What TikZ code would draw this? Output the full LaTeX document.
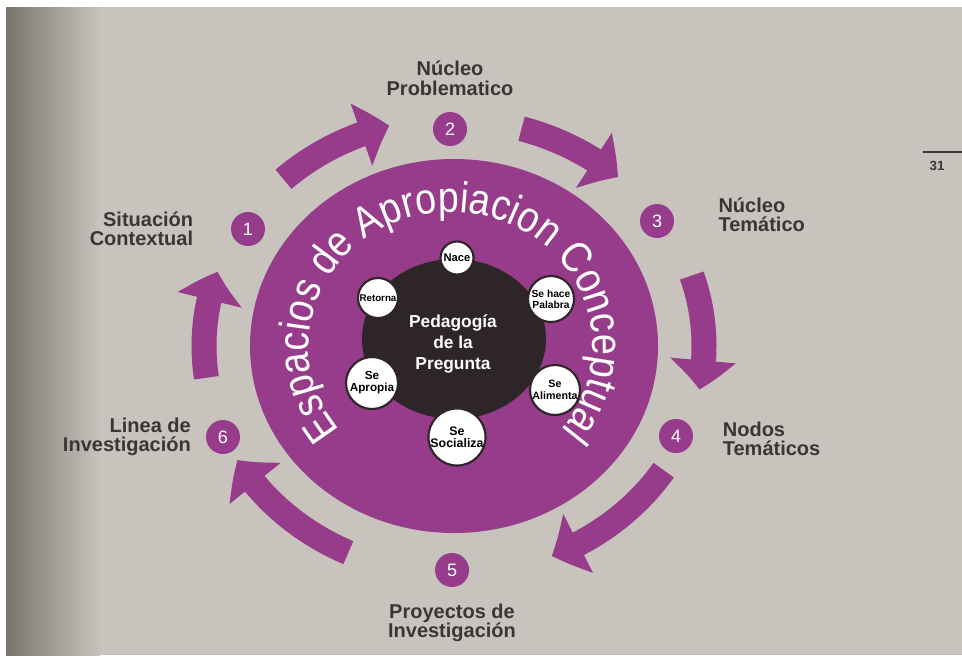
\documentclass[tikz,border=0pt]{standalone}
\usepackage{fontspec}
\setmainfont{Liberation Sans}
\newfontfamily\ringfont[FakeStretch=0.87]{Liberation Sans}
\usepackage{tikz}
\usetikzlibrary{arrows.meta,bending,positioning,decorations.text}
\definecolor{pagegray}{HTML}{C9C3BD}
\definecolor{gutter}{HTML}{7A746E}
\definecolor{espurple}{HTML}{973B8B}
\definecolor{corenavy}{HTML}{2E2529}
\definecolor{labelgray}{HTML}{3C3536}

\begin{document}
\begin{tikzpicture}[
  x=0.75pt, y=0.75pt,
  every node/.style={align=center, inner sep=0pt},
  num/.style={circle, fill=espurple, text=white, minimum size=25.5pt, font=\fontsize{13.5}{13.5}\selectfont},
  stage/.style={text=labelgray, font=\fontsize{15}{14.6}\selectfont\bfseries},
  verb/.style={circle, fill=white, draw=corenavy, line width=1.6pt},
  cycle/.style={espurple, line width=18.75pt, -{Triangle[length=22pt, width=48pt, bend]}}
]
% page
\useasboundingbox (0,0) rectangle (962,-658);
\fill[white] (0,0) rectangle (962,-658);
\fill[pagegray] (6,-7) rectangle (962,-655);
\shade[left color=gutter, right color=pagegray] (6,-7) rectangle (100,-655);
\node[font=\fontsize{10}{10}\selectfont\bfseries, text=labelgray] (pg) at (937,-166) {31};
\draw[labelgray, line width=0.9pt] (923,-152) -- (962,-152);

% big ring
\coordinate (c) at (454,-346);
\fill[espurple] (c) ellipse[x radius=204, y radius=187];
\path[decorate, decoration={text along path, text align=center, text color=white,
  text={|\ringfont\fontsize{32.5}{32.5}\selectfont|Espacios de Apropiacion Conceptual}}]
  ([xshift=-2.5pt]c) ++(240:142 and 134) arc[start angle=240, end angle=-60, x radius=142, y radius=134];

% core
\fill[corenavy] (454,-339) ellipse[x radius=92, y radius=80];
\node[text=white, font=\fontsize{13}{15.75}\selectfont\bfseries] (pq) at (453,-344) {Pedagogía\\de la\\Pregunta};

\node[verb, minimum size=24.75pt, font=\fontsize{8.4}{8.4}\selectfont\bfseries] (nace) at (457,-258) {Nace};
\node[verb, minimum size=34.5pt, font=\fontsize{7.7}{8}\selectfont\bfseries] (palabra) at (551,-299) {Se hace\\Palabra};
\node[verb, minimum size=37.5pt, font=\fontsize{8}{8.6}\selectfont\bfseries] (alimenta) at (555,-390) {Se\\Alimenta};
\node[verb, minimum size=42pt, font=\fontsize{9.3}{9.3}\selectfont\bfseries] (socializa) at (457,-437) {Se\\Socializa};
\node[verb, minimum size=39pt, font=\fontsize{8.8}{9}\selectfont\bfseries] (apropia) at (372,-383) {Se\\Apropia};
\node[verb, minimum size=30pt, font=\fontsize{7.3}{7.3}\selectfont\bfseries] (retorna) at (378,-298) {Retorna};

% stages
\node[num] (n1) at (248,-229) {1};
\node[num] (n2) at (450,-129) {2};
\node[num] (n3) at (657,-221) {3};
\node[num] (n4) at (676,-436) {4};
\node[num] (n5) at (452,-570) {5};
\node[num] (n6) at (223,-437) {6};

\node[stage, align=right, left=28pt of n1] (l1) {Situación\\Contextual};
\node[stage, above=12pt of n2] (l2) {Núcleo\\Problematico};
\node[stage, align=left, right=33pt of n3, yshift=4.5pt] (l3) {Núcleo\\Temático};
\node[stage, align=left, right=22pt of n4, yshift=-2pt] (l4) {Nodos\\Temáticos};
\node[stage, below=12pt of n5] (l5) {Proyectos de\\Investigación};
\node[stage, align=right, left=11pt of n6] (l6) {Linea de\\Investigación};

% arrows round the ring
\draw[cycle] (c) ++(133:250 and 228) arc[start angle=133, end angle=105, x radius=250, y radius=228];
\draw[cycle] (c) ++(74:245 and 226) arc[start angle=74, end angle=48, x radius=245, y radius=222];
\draw[cycle] (c) ++(18:250 and 228) arc[start angle=18, end angle=-11, x radius=250, y radius=228];
\draw[cycle] (c) ++(-33:250 and 228) arc[start angle=-33, end angle=-67, x radius=250, y radius=228];
\draw[cycle] (c) ++(-115:250 and 228) arc[start angle=-115, end angle=-150, x radius=250, y radius=228];
\draw[cycle] (c) ++(-172:250 and 228) arc[start angle=-172, end angle=-199, x radius=250, y radius=228];
\end{tikzpicture}
\end{document}
